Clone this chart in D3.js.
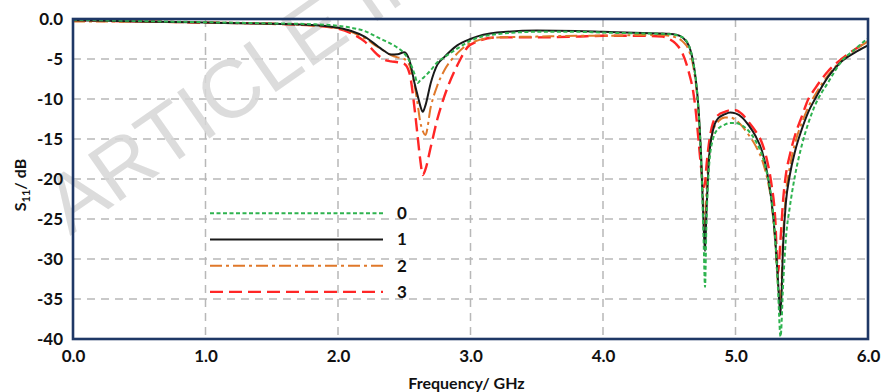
<!DOCTYPE html>
<html>
<head>
<meta charset="utf-8">
<script src="https://cdn.jsdelivr.net/npm/d3@7"></script>
<style>
  body { margin: 0; background: #fff; }
  text { font-family: Lato, "Open Sans", sans-serif; font-weight: 700; }
</style>
</head>
<body>
<div id="chart"></div>
<script>
// S11 vs frequency, four variants (0..3)

// frequency samples in GHz (shared by all series)
const freq = [0, 0.5, 1.0, 1.5, 1.8, 2.0, 2.1, 2.2, 2.3, 2.35, 2.4, 2.45, 2.5, 2.54, 2.58, 2.6, 2.62, 2.64, 2.66, 2.7, 2.75, 2.8, 2.9, 3.0, 3.2, 3.5, 3.8, 4.0, 4.3,
  4.45, 4.5, 4.55, 4.6, 4.65, 4.68, 4.7, 4.72, 4.74, 4.76, 4.77, 4.78, 4.8, 4.83, 4.87, 4.92, 4.96, 5.0, 5.05, 5.1, 5.15, 5.2, 5.24, 5.27, 5.3, 5.32, 5.34, 5.36, 5.38, 5.41, 5.45, 5.5, 5.55, 5.6, 5.7, 5.8, 5.9, 6.0];

// S11 in dB
const s11_0 = [-0.1, -0.25, -0.4, -0.55, -0.65, -0.85, -1.1, -1.5, -2.3, -2.7, -3.1, -3.6, -4.3, -5.3, -7.0, -8.0, -7.7, -7.4, -7.1, -6.4, -5.4, -4.8, -3.7, -2.7, -1.9, -1.6, -1.6, -1.7, -1.8,
  -1.85, -1.9, -2.0, -2.3, -3.4, -5.3, -7.5, -11.2, -17.5, -28.0, -33.5, -26.0, -18.5, -15.0, -13.7, -13.2, -13.0, -13.0, -13.3, -14.0, -15.2, -17.0, -19.5, -22.3, -27.5, -33.5, -39.7, -33.0, -27.5, -23.5, -19.5, -15.8, -13.0, -10.8, -7.9, -5.3, -3.8, -2.4];
const s11_1 = [-0.15, -0.3, -0.45, -0.6, -0.75, -1.1, -1.5, -2.2, -3.4, -4.0, -4.45, -4.4, -4.15, -5.2, -8.2, -9.5, -10.8, -11.6, -10.8, -8.0, -5.7, -4.8, -3.3, -2.5, -1.7, -1.45, -1.5, -1.6, -1.75,
  -1.8, -1.85, -1.95, -2.3, -3.4, -5.3, -7.5, -11.0, -17.0, -26.0, -29.0, -24.5, -17.5, -13.9, -12.4, -11.9, -11.7, -11.8, -12.3, -13.3, -14.6, -16.5, -19.3, -22.5, -27.5, -32.5, -37.0, -28.0, -23.0, -19.5, -16.5, -13.8, -11.6, -10.0, -7.2, -5.3, -4.2, -3.3];
const s11_2 = [-0.3, -0.35, -0.45, -0.6, -0.8, -1.15, -1.6, -2.4, -3.5, -4.0, -4.5, -4.8, -5.0, -5.8, -8.5, -10.5, -12.8, -14.0, -14.5, -11.0, -8.3, -6.5, -4.3, -3.0, -2.3, -2.2, -2.1, -2.1, -2.0,
  -2.0, -2.1, -2.3, -2.8, -4.0, -5.8, -8.0, -11.5, -17.0, -24.0, -26.0, -22.0, -17.0, -14.0, -12.8, -12.3, -12.3, -12.6, -13.4, -14.5, -15.8, -17.6, -20.0, -22.7, -28.0, -33.0, -35.0, -27.0, -22.0, -18.5, -15.5, -13.0, -11.0, -9.5, -7.0, -5.2, -3.9, -2.8];
const s11_3 = [-0.2, -0.3, -0.45, -0.6, -0.8, -1.2, -1.8, -2.8, -4.5, -5.1, -5.3, -5.4, -5.6, -6.8, -11.5, -14.5, -17.5, -19.5, -18.8, -16.0, -12.5, -9.8, -5.8, -3.2, -2.3, -2.3, -2.2, -2.1, -2.1,
  -2.2, -2.5, -3.1, -4.3, -6.8, -9.0, -11.5, -15.0, -18.5, -21.0, -20.5, -18.5, -15.5, -13.0, -12.0, -11.6, -11.4, -11.4, -11.9, -12.9, -14.0, -15.5, -17.8, -20.5, -25.0, -31.8, -27.5, -22.5, -19.5, -17.0, -14.5, -12.2, -10.0, -8.7, -6.5, -5.0, -3.8, -2.8];

const seriesNames = ["0", "1", "2", "3"];
const seriesValues = [s11_0, s11_1, s11_2, s11_3];

// tick labels
const xTicks = [0, 1, 2, 3, 4, 5, 6];
const yTicks = [0, -5, -10, -15, -20, -25, -30, -35, -40];

// line styles per series
const styles = [
  { color: "#2eb34f", dash: "4,2.5", width: 2 },
  { color: "#1a1a1a", dash: null, width: 2 },
  { color: "#e0782a", dash: "12,4,3,4", width: 2 },
  { color: "#ff2626", dash: "13,6", width: 2.4 }
];

const width = 885;
const height = 392;
const margin = { top: 19, right: 17, bottom: 53, left: 73 };
const innerW = width - margin.left - margin.right;
const innerH = height - margin.top - margin.bottom;

const svg = d3.select("#chart")
  .append("svg")
  .attr("width", width)
  .attr("height", height);

const x = d3.scaleLinear().domain([0, 6]).range([margin.left, margin.left + innerW]);
const y = d3.scaleLinear().domain([-40, 0]).range([margin.top + innerH, margin.top]);

// dashed grid
const grid = svg.append("g").attr("stroke", "#b8b8b8").attr("stroke-width", 1.5).attr("stroke-dasharray", "8,6");
grid.selectAll("line.v")
  .data(xTicks.slice(1, -1))
  .join("line")
  .attr("class", "v")
  .attr("x1", d => x(d)).attr("x2", d => x(d))
  .attr("y1", y(0)).attr("y2", y(-40));
grid.selectAll("line.h")
  .data(yTicks.slice(1, -1))
  .join("line")
  .attr("class", "h")
  .attr("x1", x(0)).attr("x2", x(6))
  .attr("y1", d => y(d)).attr("y2", d => y(d));

// watermark (cut off by the top edge, as in the source)
svg.append("text")
  .attr("transform", "translate(70,236) rotate(-35)")
  .attr("font-size", 82)
  .style("font-family", "'Liberation Sans', Arial, sans-serif")
  .style("font-weight", 400)
  .attr("fill", "#d7d7d7")
  .attr("opacity", 0.85)
  .text("ARTICLE IN PRESS");

// curves
const line = d3.line()
  .x(d => x(d[0]))
  .y(d => y(d[1]))
  .curve(d3.curveMonotoneX);

svg.append("clipPath").attr("id", "plotclip")
  .append("rect")
  .attr("x", x(0)).attr("y", y(0) - 2)
  .attr("width", innerW).attr("height", innerH + 4);

const curves = svg.append("g").attr("clip-path", "url(#plotclip)");
// draw 3 first so 0 and 1 end up on top like in the source
[3, 2, 1, 0].forEach(function (i) {
  const pts = freq.map((f, k) => [f, seriesValues[i][k]]);
  curves.append("path")
    .datum(pts)
    .attr("fill", "none")
    .attr("stroke", styles[i].color)
    .attr("stroke-width", styles[i].width)
    .attr("stroke-dasharray", styles[i].dash)
    .attr("stroke-linejoin", "round")
    .attr("d", line);
});

// plot frame
svg.append("rect")
  .attr("x", x(0)).attr("y", y(0))
  .attr("width", innerW).attr("height", innerH)
  .attr("fill", "none")
  .attr("stroke", "#1f3866")
  .attr("stroke-width", 2.6);

// axes (labels only, frame drawn above)
const xAxis = svg.append("g")
  .attr("transform", `translate(0,${y(-40)})`)
  .call(d3.axisBottom(x).tickValues(xTicks).tickFormat(d3.format(".1f")).tickSize(0).tickPadding(11));
xAxis.select(".domain").remove();
xAxis.selectAll("text").attr("font-size", 17).attr("fill", "#111").style("font-family", "Lato, sans-serif");

const yAxis = svg.append("g")
  .attr("transform", `translate(${x(0)},0)`)
  .call(d3.axisLeft(y).tickValues(yTicks).tickFormat(d => d === 0 ? "0.0" : d).tickSize(0).tickPadding(10));
yAxis.select(".domain").remove();
yAxis.selectAll("text").attr("font-size", 17).attr("fill", "#111").style("font-family", "Lato, sans-serif");

// axis titles
svg.append("text")
  .attr("x", (x(0) + x(6)) / 2 - 4)
  .attr("y", 389)
  .attr("text-anchor", "middle")
  .attr("font-size", 16)
  .attr("fill", "#111")
  .text("Frequency/ GHz");

const yTitle = svg.append("text")
  .attr("transform", "translate(26,185) rotate(-90)")
  .attr("text-anchor", "middle")
  .attr("font-size", 16)
  .attr("fill", "#111");
yTitle.append("tspan").text("S");
yTitle.append("tspan").attr("font-size", 11).attr("dy", 4).text("11");
yTitle.append("tspan").attr("dy", -4).text("/ dB");

// legend
const legendY = d3.scaleBand().domain(seriesNames).range([200, 305]);
const legend = svg.append("g");
seriesNames.forEach(function (name, i) {
  const ly = legendY(name) + legendY.bandwidth() / 2;
  legend.append("line")
    .attr("x1", 210).attr("x2", 383)
    .attr("y1", ly).attr("y2", ly)
    .attr("stroke", styles[i].color)
    .attr("stroke-width", styles[i].width)
    .attr("stroke-dasharray", styles[i].dash);
  legend.append("text")
    .attr("x", 397).attr("y", ly)
    .attr("dy", "0.35em")
    .attr("font-size", 17)
    .attr("fill", "#111")
    .text(name);
});
</script>
</body>
</html>
